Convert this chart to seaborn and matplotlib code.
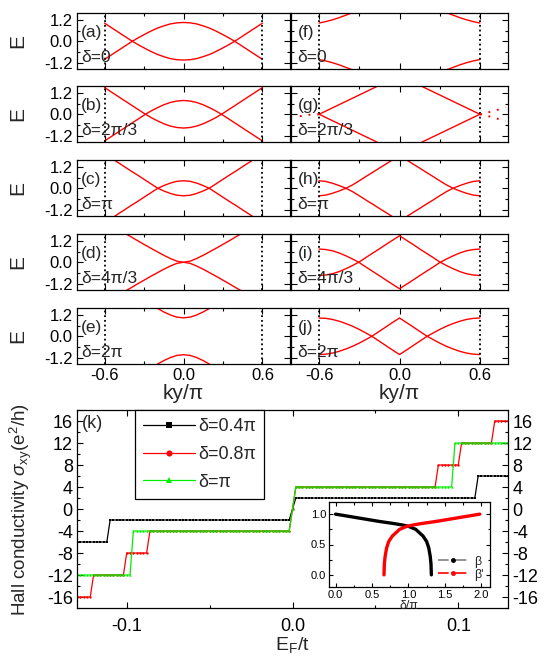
import numpy as np
import matplotlib
matplotlib.use('Agg')
import matplotlib.pyplot as plt
import seaborn as sns
from matplotlib.lines import Line2D
from matplotlib.ticker import FixedLocator, MultipleLocator, FormatStrFormatter

nan = np.nan

# === band structures E(ky) ===
ky = [-0.6, -0.55, -0.5, -0.45, -0.4, -0.35, -0.3, -0.25, -0.2, -0.15, -0.1, -0.05, 0.0,
      0.05, 0.1, 0.15, 0.2, 0.25, 0.3, 0.35, 0.4, 0.45, 0.5, 0.55, 0.6]

a_up = [-1.01, -0.77, -0.53, -0.29, -0.05, 0.17, 0.37, 0.56, 0.73, 0.86, 0.97, 1.03, 1.05,
        1.03, 0.97, 0.86, 0.73, 0.56, 0.37, 0.17, -0.05, -0.29, -0.53, -0.77, -1.01]
a_dn = [1.01, 0.77, 0.53, 0.29, 0.05, -0.17, -0.37, -0.56, -0.73, -0.86, -0.97, -1.03, -1.05,
        -1.03, -0.97, -0.86, -0.73, -0.56, -0.37, -0.17, 0.05, 0.29, 0.53, 0.77, 1.01]
b_up = [-1.49, -1.25, -1.01, -0.77, -0.53, -0.29, -0.05, 0.17, 0.36, 0.53, 0.66, 0.74, 0.77,
        0.74, 0.66, 0.53, 0.36, 0.17, -0.05, -0.29, -0.53, -0.77, -1.01, -1.25, -1.49]
b_dn = [1.49, 1.25, 1.01, 0.77, 0.53, 0.29, 0.05, -0.17, -0.36, -0.53, -0.66, -0.74, -0.77,
        -0.74, -0.66, -0.53, -0.36, -0.17, 0.05, 0.29, 0.53, 0.77, 1.01, 1.25, 1.49]
c_up = [-1.93, -1.69, -1.45, -1.21, -0.97, -0.74, -0.50, -0.26, -0.02, 0.15, 0.29, 0.39, 0.42,
        0.39, 0.29, 0.15, -0.02, -0.26, -0.50, -0.74, -0.97, -1.21, -1.45, -1.69, -1.93]
c_dn = [1.93, 1.69, 1.45, 1.21, 0.97, 0.74, 0.50, 0.26, 0.02, -0.15, -0.29, -0.39, -0.42,
        -0.39, -0.29, -0.15, 0.02, 0.26, 0.50, 0.74, 0.97, 1.21, 1.45, 1.69, 1.93]
d_up = [2.28, 2.07, 1.85, 1.64, 1.43, 1.21, 1.00, 0.79, 0.59, 0.39, 0.21, 0.06, 0.0,
        0.06, 0.21, 0.39, 0.59, 0.79, 1.00, 1.21, 1.43, 1.64, 1.85, 2.07, 2.28]
d_dn = [-2.28, -2.07, -1.85, -1.64, -1.43, -1.21, -1.00, -0.79, -0.59, -0.39, -0.21, -0.06, 0.0,
        -0.06, -0.21, -0.39, -0.59, -0.79, -1.00, -1.21, -1.43, -1.64, -1.85, -2.07, -2.28]
e_up = [nan, nan, nan, nan, nan, nan, 2.05, 1.80, 1.57, 1.36, 1.19, 1.07, 1.03,
        1.07, 1.19, 1.36, 1.57, 1.80, 2.05, nan, nan, nan, nan, nan, nan]
e_dn = [nan, nan, nan, nan, nan, nan, -2.05, -1.80, -1.57, -1.36, -1.19, -1.07, -1.03,
        -1.07, -1.19, -1.36, -1.57, -1.80, -2.05, nan, nan, nan, nan, nan, nan]

f_up = [1.02, 1.10, 1.20, 1.32, 1.46, 1.60, 1.75, nan, nan, nan, nan, nan, nan,
        nan, nan, nan, nan, nan, 1.75, 1.60, 1.46, 1.32, 1.20, 1.10, 1.02]
f_dn = [-1.02, -1.10, -1.20, -1.32, -1.46, -1.60, -1.75, nan, nan, nan, nan, nan, nan,
        nan, nan, nan, nan, nan, -1.75, -1.60, -1.46, -1.32, -1.20, -1.10, -1.02]
g_up = [0.0, 0.18, 0.36, 0.54, 0.72, 0.90, 1.08, 1.26, 1.44, 1.62, 1.80, 1.98, 2.16,
        1.98, 1.80, 1.62, 1.44, 1.26, 1.08, 0.90, 0.72, 0.54, 0.36, 0.18, 0.0]
g_dn = [0.0, -0.18, -0.36, -0.54, -0.72, -0.90, -1.08, -1.26, -1.44, -1.62, -1.80, -1.98, -2.16,
        -1.98, -1.80, -1.62, -1.44, -1.26, -1.08, -0.90, -0.72, -0.54, -0.36, -0.18, 0.0]
h_up = [0.42, 0.38, 0.28, 0.15, 0.0, -0.19, -0.42, -0.66, -0.89, -1.13, -1.36, -1.60, -1.84,
        -1.60, -1.36, -1.13, -0.89, -0.66, -0.42, -0.19, 0.0, 0.15, 0.28, 0.38, 0.42]
h_dn = [-0.42, -0.38, -0.28, -0.15, 0.0, 0.19, 0.42, 0.66, 0.89, 1.13, 1.36, 1.60, 1.84,
        1.60, 1.36, 1.13, 0.89, 0.66, 0.42, 0.19, 0.0, -0.15, -0.28, -0.38, -0.42]
i_up = [0.74, 0.71, 0.64, 0.52, 0.36, 0.18, -0.02, -0.27, -0.51, -0.75, -1.00, -1.24, -1.48,
        -1.24, -1.00, -0.75, -0.51, -0.27, -0.02, 0.18, 0.36, 0.52, 0.64, 0.71, 0.74]
i_dn = [-0.74, -0.71, -0.64, -0.52, -0.36, -0.18, 0.02, 0.27, 0.51, 0.75, 1.00, 1.24, 1.48,
        1.24, 1.00, 0.75, 0.51, 0.27, 0.02, -0.18, -0.36, -0.52, -0.64, -0.71, -0.74]
j_up = [1.02, 1.00, 0.94, 0.84, 0.71, 0.56, 0.38, 0.18, -0.03, -0.28, -0.53, -0.78, -1.02,
        -0.78, -0.53, -0.28, -0.03, 0.18, 0.38, 0.56, 0.71, 0.84, 0.94, 1.00, 1.02]
j_dn = [-1.02, -1.00, -0.94, -0.84, -0.71, -0.56, -0.38, -0.18, 0.03, 0.28, 0.53, 0.78, 1.02,
        0.78, 0.53, 0.28, 0.03, -0.18, -0.38, -0.56, -0.71, -0.84, -0.94, -1.00, -1.02]

# dotted continuation outside the zone in panel (g)
g_left_ky = [-0.6, -0.65, -0.7, -0.75, -0.79]
g_left_e = [0.0, -0.01, -0.05, -0.12, -0.22]
g_right_ky = [0.6, 0.65, 0.7, 0.75, 0.79]
g_right_up = [0.0, 0.08, 0.18, 0.29, 0.40]
g_right_dn = [0.0, -0.08, -0.18, -0.29, -0.40]

left_tags = ['(a)', '(b)', '(c)', '(d)', '(e)']
right_tags = ['(f)', '(g)', '(h)', '(i)', '(j)']
delta_tags = ['δ=0', 'δ=2π/3', 'δ=π', 'δ=4π/3', 'δ=2π']
left_curves = [(a_up, a_dn), (b_up, b_dn), (c_up, c_dn), (d_up, d_dn), (e_up, e_dn)]
right_curves = [(f_up, f_dn), (g_up, g_dn), (h_up, h_dn), (i_up, i_dn), (j_up, j_dn)]
zone_edges = [-0.6, 0.6]

# === Hall conductivity plateaus (k) ===
ef_step = 0.002   # spacing of the E_F sample points (markers)
black_edges = [-0.1115, -0.0005, 0.0005, 0.1115]
black_levels = [-6, -2, 0, 2, 6]
red_edges = [-0.1215, -0.1015, -0.0865, -0.0005, 0.0005, 0.0865, 0.1015, 0.1215]
red_levels = [-16, -12, -8, -4, 0, 4, 8, 12, 16]
green_edges = [-0.0965, -0.0005, 0.0005, 0.0965]
green_levels = [-12, -4, 0, 4, 12]

# === inset beta / beta' ===
beta_delta = [0.0, 0.2, 0.4, 0.6, 0.8, 0.9, 1.0, 1.1, 1.2, 1.25, 1.28, 1.3, 1.31, 1.315]
beta = [1.0, 0.96, 0.92, 0.88, 0.845, 0.825, 0.80, 0.75, 0.64, 0.55, 0.44, 0.30, 0.18, 0.0]
betap_delta = [0.665, 0.67, 0.68, 0.70, 0.73, 0.78, 0.88, 0.98, 1.08, 1.18, 1.38, 1.58, 1.78, 1.98]
betap = [0.0, 0.18, 0.30, 0.44, 0.55, 0.64, 0.75, 0.80, 0.825, 0.845, 0.88, 0.92, 0.96, 1.0]

# === style ===
sns.set_style('ticks')
plt.rcParams['font.family'] = ['Liberation Sans', 'DejaVu Sans']
plt.rcParams['axes.unicode_minus'] = False
plt.rcParams['mathtext.fontset'] = 'custom'
plt.rcParams['mathtext.rm'] = 'Liberation Sans'
plt.rcParams['mathtext.it'] = 'Liberation Sans:italic'
plt.rcParams['axes.linewidth'] = 0.9
plt.rcParams['axes.edgecolor'] = 'black'

W, H = 545.0, 658.0
fig = plt.figure(figsize=(W / 100, H / 100), dpi=100)


def px_axes(x0, y0, x1, y1):
    return fig.add_axes([x0 / W, 1 - y1 / H, (x1 - x0) / W, (y1 - y0) / H])


def style_ticks(ax, size):
    ax.tick_params(which='both', direction='in', top=True, right=True,
                   labelsize=size, colors='black', width=0.8)
    ax.tick_params(which='major', length=4)
    ax.tick_params(which='minor', length=2.5)


row_tops = [13, 86, 160, 234, 308]
row_h = 56
columns = [(77, 290, left_tags, left_curves, True),
           (291, 508, right_tags, right_curves, False)]

for x0, x1, tags, curves, is_left in columns:
    for r, y0 in enumerate(row_tops):
        ax = px_axes(x0, y0, x1, y0 + row_h)
        up, dn = curves[r]
        ax.plot(ky, up, color='red', lw=1.0)
        ax.plot(ky, dn, color='red', lw=1.0)
        for xe in zone_edges:
            ax.axvline(xe, color='black', lw=1.3, ls=(0, (1, 1.6)))
        if not is_left and r == 1:
            dots = dict(color='red', lw=1.4, ls=(0, (1, 3.5)))
            ax.plot(g_left_ky, g_left_e, **dots)
            ax.plot(g_right_ky, g_right_up, **dots)
            ax.plot(g_right_ky, g_right_dn, **dots)
        ax.set_xlim(-0.81, 0.81)
        ax.set_ylim(-1.55, 1.58)
        ax.xaxis.set_major_locator(FixedLocator([-0.6, 0.0, 0.6]))
        ax.xaxis.set_minor_locator(FixedLocator([-0.3, 0.3]))
        ax.yaxis.set_major_locator(FixedLocator([-1.2, 0.0, 1.2]))
        ax.yaxis.set_minor_locator(FixedLocator([-0.6, 0.6]))
        ax.xaxis.set_major_formatter(FormatStrFormatter('%.1f'))
        ax.yaxis.set_major_formatter(FormatStrFormatter('%.1f'))
        style_ticks(ax, 12)
        ax.tick_params(axis='both', pad=3)
        if not is_left:
            ax.tick_params(labelleft=False)
        else:
            ax.set_ylabel('E', fontsize=15)
            ax.yaxis.set_label_coords(-0.235, 0.5)
        if r < 4:
            ax.tick_params(labelbottom=False)
        else:
            ax.set_xlabel('ky/π', fontsize=15, va='top')
            ax.xaxis.set_label_coords(0.5, -0.36)
        tx = 0.019 if is_left else 0.03
        ax.text(tx, 0.66, tags[r], transform=ax.transAxes, fontsize=12.5,
                ha='left', va='center')
        ax.text(tx, 0.21, delta_tags[r], transform=ax.transAxes, fontsize=12.5,
                ha='left', va='center')

# === (k) Hall conductivity ===
ef = np.round(np.arange(-0.13, 0.13 + ef_step / 2, ef_step), 4)
black_sigma = np.array(black_levels)[np.searchsorted(black_edges, ef)]
red_sigma = np.array(red_levels)[np.searchsorted(red_edges, ef)]
green_sigma = np.array(green_levels)[np.searchsorted(green_edges, ef)]

axk = px_axes(77, 410, 508, 608)
mk = dict(markersize=1.7, markeredgewidth=0, lw=0.9)
sns.lineplot(x=ef, y=black_sigma, ax=axk, color='black', marker='s', label='δ=0.4π', **mk)
sns.lineplot(x=ef, y=red_sigma, ax=axk, color='#ff0000', marker='o', label='δ=0.8π', **mk)
sns.lineplot(x=ef, y=green_sigma, ax=axk, color='#00ee00', marker='^', label='δ=π', **mk)
axk.set_xlim(-0.13, 0.13)
axk.set_ylim(-18, 18)
axk.xaxis.set_major_locator(MultipleLocator(0.1))
axk.xaxis.set_minor_locator(MultipleLocator(0.05))
axk.yaxis.set_major_locator(MultipleLocator(4))
axk.yaxis.set_minor_locator(MultipleLocator(2))
axk.xaxis.set_major_formatter(FormatStrFormatter('%.1f'))
axk.yaxis.set_major_formatter(FormatStrFormatter('%d'))
style_ticks(axk, 13)
axk.tick_params(labelright=True)
axk.tick_params(axis='x', pad=7)
axk.tick_params(axis='y', pad=3)
axk.set_ylabel('Hall conductivity $\\sigma_{\\mathrm{xy}}$(e$^{\\mathrm{2}}$/h)', fontsize=13.5)
axk.yaxis.set_label_coords(-0.1, 0.5)
axk.set_xlabel('E$_{\\mathrm{F}}$/t', fontsize=14, va='top')
axk.xaxis.set_label_coords(0.5, -0.135)
axk.text(0.012, 0.93, '(k)', transform=axk.transAxes, fontsize=13, ha='left', va='center')
leg = axk.legend(loc='upper left', bbox_to_anchor=(0.134, 1.0), borderaxespad=0,
                 fontsize=13, handlelength=2.9, handletextpad=0.15, labelspacing=0.6,
                 markerscale=2.6, fancybox=False, framealpha=1, edgecolor='black',
                 borderpad=0.45)
leg.get_frame().set_linewidth(0.9)

# === inset ===
axi = px_axes(329, 502, 490, 587)
axi.set_facecolor('white')
sns.lineplot(x=beta_delta, y=beta, ax=axi, color='black', lw=2.4, estimator=None)
sns.lineplot(x=betap_delta, y=betap, ax=axi, color='#ff0000', lw=2.4, estimator=None)
axi.set_xlim(-0.09, 2.12)
axi.set_ylim(-0.2, 1.2)
axi.xaxis.set_major_locator(MultipleLocator(0.5))
axi.xaxis.set_minor_locator(MultipleLocator(0.25))
axi.yaxis.set_major_locator(FixedLocator([0.0, 0.5, 1.0]))
axi.yaxis.set_minor_locator(FixedLocator([0.25, 0.75]))
axi.xaxis.set_major_formatter(FormatStrFormatter('%.1f'))
axi.yaxis.set_major_formatter(FormatStrFormatter('%.1f'))
style_ticks(axi, 8)
axi.tick_params(which='major', length=3)
axi.tick_params(which='minor', length=1.8)
axi.tick_params(axis='both', pad=2)
axi.set_xlabel('δ/π', fontsize=9, labelpad=0)
axi.set_ylabel('')
handles = [Line2D([], [], color='gray', lw=1.2, ls='-.', marker='o', markersize=2.5,
                  markerfacecolor='black', markeredgecolor='black'),
           Line2D([], [], color='#ff0000', lw=1.2, ls='-.', marker='o', markersize=2.5)]
axi.legend(handles, ['β', "β'"], loc='lower right', frameon=False, fontsize=9,
           handlelength=2.5, handletextpad=0.4, labelspacing=0.1, borderaxespad=0.1)

fig.savefig('out.png', dpi=100)
